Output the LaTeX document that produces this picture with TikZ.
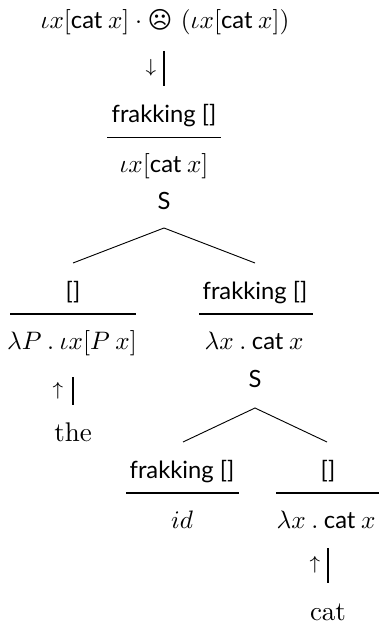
\documentclass[tikz,border=0pt]{standalone}
\usepackage{fontspec}
\setsansfont{Lato}
\newfontfamily\symfont{DejaVu Sans}
\newcommand{\sfsz}{\fontsize{8.8}{10.5}\selectfont}
\newcommand{\msfsz}{\fontsize{9.4}{11}\selectfont}
\newcommand{\cattxt}{\mbox{\msfsz\sffamily cat}}
\newcommand{\ws}{\mskip 4mu}
\tikzset{
  lbl/.style={anchor=base, inner sep=0pt, font=\normalsize},
  mlbl/.style={anchor=base, inner sep=0pt, font=\normalsize, scale=0.935},
  sflbl/.style={anchor=base, inner sep=0pt, font=\sfsz\sffamily},
  arr/.style={anchor=center, inner sep=0pt, font=\normalsize},
  rulew/.style={line width=0.4pt},
  edge/.style={line width=0.34pt},
}
\begin{document}
\begin{tikzpicture}[x=0.37037pt,y=-0.37037pt]
\useasboundingbox (0,0) rectangle (379,625);
% top
\node[mlbl] (top) at (165,29) {$\iota x[\cattxt\ws x]\cdot\mbox{\symfont\fontsize{9.4}{10}\selectfont ☹}\ (\iota x[\cattxt\ws x])$};
\node[arr] (a1) at (151,68) {$\scriptstyle\downarrow$};
\coordinate (v1a) at (164,51); \coordinate (v1b) at (164,86);
\draw[rulew] (v1a) -- (v1b);
% root
\node[sflbl] (f1) at (164,123) {frakking []};
\coordinate (r1a) at (107,137.5); \coordinate (r1b) at (221,137.5);
\draw[rulew] (r1a) -- (r1b);
\node[mlbl] (m1) at (164,172) {$\iota x[\cattxt\ws x]$};
\node[sflbl] (s1) at (164,210) {S};
\coordinate (t1) at (164,228); \coordinate (t1l) at (73,263); \coordinate (t1r) at (255,263);
\draw[edge] (t1l) -- (t1) -- (t1r);
% left
\node[sflbl] (fl) at (73,299.5) {[]};
\coordinate (rla) at (10,314); \coordinate (rlb) at (136,314);
\draw[rulew] (rla) -- (rlb);
\node[mlbl] (ml) at (72,349) {$\lambda P\ws.\ws\iota x[P\ws x]$};
\node[arr] (al) at (58,391) {$\scriptstyle\uparrow$};
\coordinate (vla) at (73,377); \coordinate (vlb) at (73,405);
\draw[rulew] (vla) -- (vlb);
\node[lbl] (the) at (73,441) {the};
% right
\node[sflbl] (fr) at (255,299.5) {frakking []};
\coordinate (rra) at (199,314); \coordinate (rrb) at (313,314);
\draw[rulew] (rra) -- (rrb);
\node[mlbl] (mr) at (254,349) {$\lambda x\ws.\ws\cattxt\ws x$};
\node[sflbl] (s2) at (255,387) {S};
\coordinate (t2) at (255,408); \coordinate (t2l) at (183,442); \coordinate (t2r) at (327,442);
\draw[edge] (t2l) -- (t2) -- (t2r);
% right-left
\node[sflbl] (frl) at (182,478.5) {frakking []};
\coordinate (rrla) at (126,493); \coordinate (rrlb) at (239,493);
\draw[rulew] (rrla) -- (rrlb);
\node[mlbl] (mrl) at (182,528) {$id$};
% right-right
\node[sflbl] (frr) at (328,478.5) {[]};
\coordinate (rrra) at (276,493); \coordinate (rrrb) at (379,493);
\draw[rulew] (rrra) -- (rrrb);
\node[mlbl] (mrr) at (326,528) {$\lambda x\ws.\ws\cattxt\ws x$};
\node[arr] (arr2) at (315,565) {$\scriptstyle\uparrow$};
\coordinate (vra) at (328,548); \coordinate (vrb) at (328,583);
\draw[rulew] (vra) -- (vrb);
\node[lbl] (cat) at (328,620) {cat};
\end{tikzpicture}
\end{document}
